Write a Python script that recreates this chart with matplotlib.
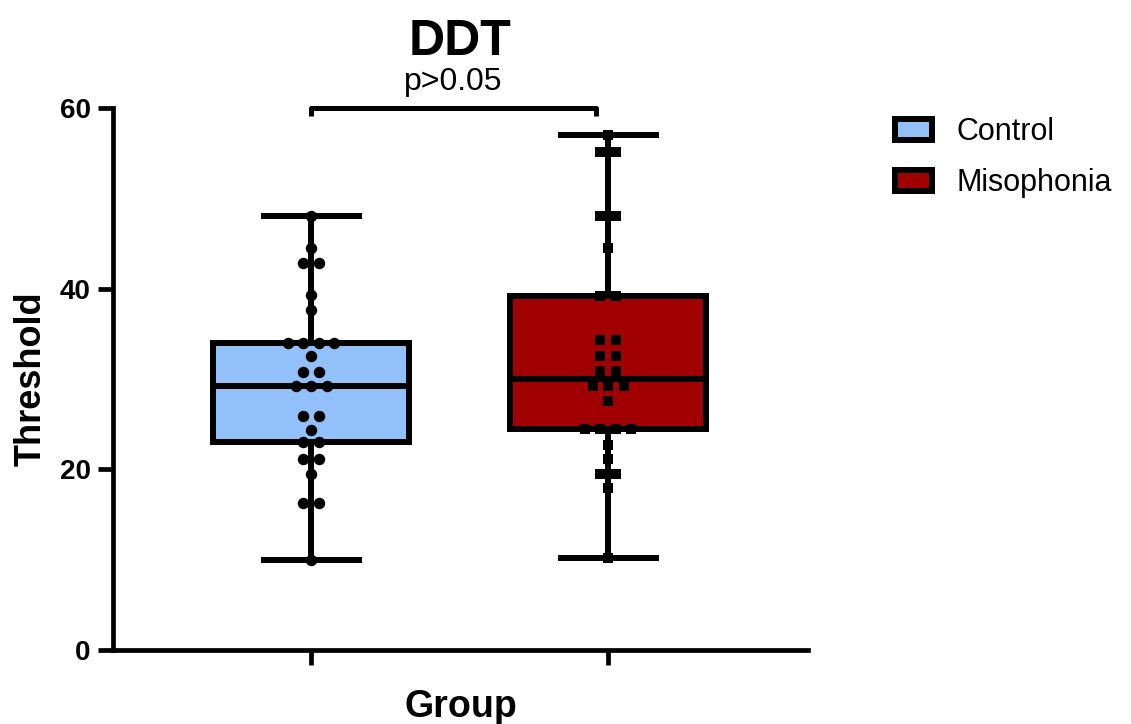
"""Box plot of DDT thresholds, control vs misophonia."""

import numpy as np
import matplotlib
matplotlib.use("Agg")
import matplotlib.pyplot as plt
from matplotlib.patches import Patch
from matplotlib.transforms import blended_transform_factory

plt.rcParams['font.family'] = ['Liberation Sans', 'DejaVu Sans']

# Data
groups = ['Control', 'Misophonia']
control = [10, 16.3, 16.3, 19.5, 21.1, 21.1, 23.0, 23.0, 24.4, 25.9, 25.9,
           29.2, 29.2, 29.2, 30.8, 30.8, 32.6, 34.0, 34.0, 34.0, 34.0,
           37.6, 39.3, 42.8, 42.8, 44.5, 48]
misophonia = [10.2, 17.9, 19.5, 19.5, 21.1, 22.7, 24.5, 24.5, 24.5, 24.5,
              27.6, 29.2, 29.2, 29.2, 30.9, 30.9, 32.6, 32.6, 34.3, 34.3,
              39.2, 39.2, 44.5, 48, 48, 55.1, 55.1, 57]
colors = ['#92C0F9', '#A00000']
markers = ['o', 's']
p_text = 'p>0.05'

W, H = 1131, 724
fig = plt.figure(figsize=(W / 100, H / 100), dpi=100)
ax = fig.add_axes([113 / W, 1 - 650 / H, (808 - 113) / W, (650 - 108) / H])

lw = 4.3
bp = ax.boxplot([control, misophonia], positions=[0, 1], widths=0.66,
                whis=(0, 100), patch_artist=True, showfliers=False,
                capwidths=0.32,
                boxprops=dict(linewidth=lw, edgecolor='black'),
                medianprops=dict(color='black', linewidth=lw),
                whiskerprops=dict(color='black', linewidth=lw),
                capprops=dict(color='black', linewidth=lw))
for patch, c in zip(bp['boxes'], colors):
    patch.set_facecolor(c)


def swarm_x(values, center, step=0.052):
    """Spread identical values side by side around the group centre."""
    vals = np.asarray(values)
    xs = np.zeros(len(vals))
    for v in np.unique(vals):
        idx = np.where(vals == v)[0]
        k = len(idx)
        xs[idx] = center + (np.arange(k) - (k - 1) / 2) * step
    return xs


for i, (vals, m) in enumerate(zip([control, misophonia], markers)):
    ax.scatter(swarm_x(vals, i), vals, marker=m, s=68 if m == 'o' else 58,
               color='black', zorder=5, linewidths=0)

ax.set_xlim(-0.667, 1.673)
ax.set_ylim(0, 60)
ax.set_yticks([0, 20, 40, 60])
ax.set_xticks([0, 1])
ax.set_xticklabels(['', ''])
for s in ['top', 'right']:
    ax.spines[s].set_visible(False)
for s in ['left', 'bottom']:
    ax.spines[s].set_linewidth(3.4)
ax.tick_params(axis='both', width=3.4, length=11, labelsize=20, pad=5)
for lab in ax.get_yticklabels():
    lab.set_fontweight('bold')

ax.set_ylabel('Threshold', fontsize=26, fontweight='bold', labelpad=8)
ax.set_xlabel('Group', fontsize=27, fontweight='bold', labelpad=12)

# significance bracket
ax.plot([0, 0, 0.96, 0.96], [59.1, 60, 60, 59.1], color='black',
        linewidth=3.6, clip_on=False, solid_capstyle='butt')
tr = blended_transform_factory(ax.transData, fig.transFigure)
ax.text(0.48, 1 - 90 / H, p_text, transform=tr,
        ha='center', va='baseline', fontsize=23)

fig.text(460.5 / W, 1 - 55 / H, 'DDT', ha='center', va='baseline',
         fontsize=36, fontweight='bold')

handles = [Patch(facecolor=c, edgecolor='black', linewidth=4.3) for c in colors]
fig.legend(handles, groups, loc='upper left', bbox_to_anchor=(895 / W, 1 - 117 / H),
           frameon=False, fontsize=22, borderpad=0, borderaxespad=0,
           handlelength=1.2, handleheight=0.68, handletextpad=0.8,
           labelspacing=0.7)

fig.savefig('out.png', dpi=100)
